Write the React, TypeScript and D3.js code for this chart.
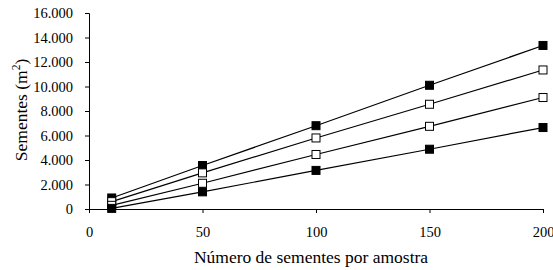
import React, { useEffect, useRef } from "react";
import * as d3 from "d3";

const xValues = [10, 50, 100, 150, 200];
const series1 = [900, 3550, 6800, 10100, 13350];
const series2 = [600, 2950, 5800, 8550, 11350];
const series3 = [300, 2100, 4450, 6750, 9100];
const series4 = [50, 1400, 3150, 4880, 6650];
const filled = [true, false, false, true];
const yTicks = [0, 2000, 4000, 6000, 8000, 10000, 12000, 14000, 16000];
const xTicks = [0, 50, 100, 150, 200];

const App: React.FC = () => {
  const svgRef = useRef<SVGSVGElement | null>(null);

  useEffect(() => {
    if (!svgRef.current) return;
    const svg = d3.select(svgRef.current);
    svg.selectAll("*").remove();

    const font = "'Liberation Serif', 'Times New Roman', serif";
    const x = d3.scaleLinear().domain([0, 200]).range([89, 543]);
    const y = d3.scaleLinear().domain([0, 16000]).range([209, 13]);
    const fmt = (v: number) => d3.format(",")(v).replace(/,/g, ".");

    // y axis
    const yAxis = svg
      .append("g")
      .attr("transform", `translate(${x(0)},0)`)
      .call(d3.axisLeft(y).tickValues(yTicks).tickSize(4).tickFormat((d) => fmt(+d)));
    yAxis.select(".domain").attr("stroke", "#000");
    yAxis.selectAll("text").attr("font-family", font).attr("font-size", 14.5).attr("fill", "#000").attr("x", -16);

    // x axis
    const xAxis = svg
      .append("g")
      .attr("transform", `translate(0,${y(0)})`)
      .call(d3.axisBottom(x).tickValues(xTicks).tickSize(4).tickSizeOuter(0));
    xAxis.select(".domain").attr("stroke", "#000");
    xAxis.selectAll("text").attr("font-family", font).attr("font-size", 14.5).attr("fill", "#000").attr("y", 18);

    const allSeries = [series1, series2, series3, series4];
    const line = d3
      .line<number>()
      .x((_, i) => x(xValues[i]))
      .y((d) => y(d));

    allSeries.forEach((s) => {
      svg.append("path").attr("d", line(s)).attr("fill", "none").attr("stroke", "#000").attr("stroke-width", 1.2);
    });
    allSeries.forEach((s, k) => {
      svg
        .append("g")
        .selectAll("rect")
        .data(s)
        .join("rect")
        .attr("x", (_, i) => x(xValues[i]) - 4)
        .attr("y", (d) => y(d) - 4)
        .attr("width", 8)
        .attr("height", 8)
        .attr("fill", filled[k] ? "#000" : "#fff")
        .attr("stroke", "#000")
        .attr("stroke-width", 1);
    });

    svg
      .append("text")
      .attr("x", 311)
      .attr("y", 263)
      .attr("text-anchor", "middle")
      .attr("font-family", font)
      .attr("font-size", 17.5)
      .text("Número de sementes por amostra");

    const yt = svg
      .append("text")
      .attr("transform", "translate(27,110) rotate(-90)")
      .attr("text-anchor", "middle")
      .attr("font-family", font)
      .attr("font-size", 17.5);
    yt.append("tspan").text("Sementes (m");
    yt.append("tspan").attr("font-size", 11.5).attr("dy", -7).text("2");
    yt.append("tspan").attr("dy", 7).text(")");
  }, []);

  return (
    <div style={{ position: "absolute", left: 0, top: 0 }}>
      <svg ref={svgRef} width={553} height={270} style={{ background: "#fff", display: "block" }}></svg>
    </div>
  );
};

export default App;
